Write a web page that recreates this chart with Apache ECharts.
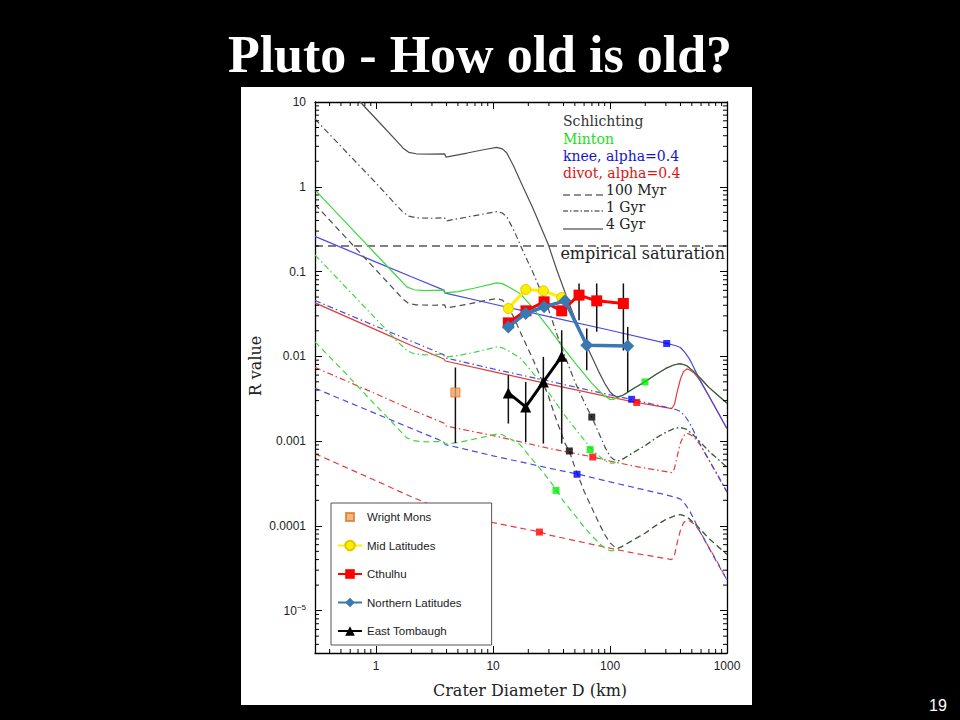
<!DOCTYPE html>
<html><head><meta charset="utf-8">
<script src="https://cdn.jsdelivr.net/npm/echarts@6.0.0/dist/echarts.min.js"></script>
<style>html,body{margin:0;padding:0;background:#000;}#c{width:960px;height:720px;}</style>
</head><body><div id="c"></div>
<script>
// ---------- model curves: [D (km), R] ----------
const schl4 = [[0.3,37.6],[0.73,10],[1.0,6.3],[1.5,3.45],[1.7,2.85],[1.9,2.55],[2.2,2.45],[3.0,2.43],[3.85,2.45],[3.95,2.24],[6.0,2.5],[8.5,2.75],[10.75,2.92],[12.0,2.8],[13.1,2.5],[15,1.75],[18,1.0],[22,0.55],[26,0.32],[29.7,0.207],[35,0.105],[41.2,0.057],[50,0.028],[60,0.0155],[70,0.0098],[80,0.0066],[90,0.0048],[100,0.0038],[107,0.0035],[115,0.0033],[130,0.0035],[160,0.0042],[199,0.005],[250,0.0062],[300,0.0072],[350,0.0079],[397,0.0082],[450,0.0078],[520,0.0066],[600,0.0054],[700,0.0043],[850,0.0034],[1000,0.0028]];
const schl1 = [[0.3,6.3],[0.5,3.0],[1.0,1.1],[1.5,0.60],[1.7,0.50],[1.9,0.45],[2.2,0.43],[3.0,0.425],[3.85,0.43],[3.95,0.395],[6.0,0.44],[8.5,0.48],[10.75,0.51],[12.0,0.49],[13.1,0.44],[15,0.31],[18,0.175],[22,0.096],[26,0.056],[29.7,0.036],[35,0.0184],[41.2,0.0100],[50,0.0050],[60,0.0029],[70,0.0019],[80,0.00125],[90,0.00086],[100,0.00066],[107,0.00061],[115,0.00058],[130,0.00062],[160,0.00074],[199,0.00088],[250,0.0011],[300,0.00127],[350,0.0014],[397,0.00145],[450,0.00138],[520,0.00117],[600,0.00095],[700,0.00076],[850,0.0006],[1000,0.00049]];
const schl01 = [[0.3,0.62],[0.5,0.29],[1.0,0.104],[1.5,0.057],[1.7,0.047],[1.9,0.042],[2.2,0.0405],[3.0,0.040],[3.85,0.0405],[3.95,0.037],[6.0,0.041],[8.5,0.0454],[10.75,0.048],[12.0,0.046],[13.1,0.041],[15,0.029],[18,0.0165],[22,0.0091],[26,0.0053],[29.7,0.0034],[35,0.00173],[41.2,0.00094],[45,0.00075],[50,0.00049],[60,0.000256],[70,0.000162],[80,0.000109],[90,0.000079],[100,0.000063],[107,0.000058],[115,0.000054],[130,0.000058],[160,0.000069],[199,0.000082],[250,0.000102],[300,0.000119],[350,0.00013],[397,0.000136],[450,0.000129],[520,0.000109],[600,0.000089],[700,0.000071],[850,0.000056],[1000,0.000046]];
const mint4 = [[0.3,0.92],[0.5,0.436],[1.0,0.159],[1.5,0.088],[1.83,0.066],[2.1,0.061],[2.6,0.0595],[3.76,0.0603],[3.85,0.056],[5,0.058],[7,0.064],[10.75,0.0736],[12,0.072],[13.5,0.066],[17,0.0551],[20,0.043],[25,0.0295],[30,0.0215],[40,0.0125],[50,0.0084],[60,0.0062],[70,0.0048],[87.6,0.0035],[100,0.0031],[107,0.0031],[130,0.0035],[160,0.0042],[199,0.005],[250,0.0062],[300,0.0072],[350,0.0079],[397,0.0082],[450,0.0078],[520,0.0066],[600,0.0054],[700,0.0043],[850,0.0034],[1000,0.0028]];
const mint1 = [[0.3,0.157],[0.5,0.075],[1.0,0.0275],[1.16,0.0222],[1.5,0.0152],[1.83,0.0117],[2.1,0.0107],[2.6,0.0104],[3.76,0.0106],[3.85,0.0098],[5,0.0102],[7,0.0112],[10.75,0.0129],[12,0.0126],[13.5,0.0116],[17,0.0096],[20,0.0074],[25,0.0051],[30,0.0037],[40,0.0021],[50,0.00142],[60,0.00103],[67.5,0.00085],[70,0.0008],[87.6,0.0006],[100,0.00055],[107,0.00055],[130,0.00062],[160,0.00074],[199,0.00088],[250,0.0011],[300,0.00127],[350,0.0014],[397,0.00145],[450,0.00138],[520,0.00117],[600,0.00095],[700,0.00076],[850,0.0006],[1000,0.00049]];
const mint01 = [[0.3,0.0148],[0.5,0.0072],[1.0,0.0026],[1.32,0.00176],[1.5,0.00145],[1.83,0.00109],[2.1,0.00101],[2.6,0.00098],[3.76,0.00099],[3.85,0.00092],[5,0.00096],[7,0.00106],[10.75,0.00121],[12,0.00119],[13.5,0.00109],[17,0.00091],[20,0.00069],[25,0.00048],[30,0.00035],[34.5,0.00027],[40,0.000195],[50,0.000134],[60,0.000097],[70,0.000076],[87.6,0.000056],[100,0.000051],[107,0.000051],[130,0.000058],[160,0.000069],[199,0.000082],[250,0.000102],[300,0.000119],[350,0.00013],[397,0.000136],[450,0.000129],[520,0.000109],[600,0.000089],[700,0.000071],[850,0.000056],[1000,0.000046]];
const knee4 = [[0.3,0.26],[1.0,0.129],[2.0,0.0867],[3.8,0.0603],[3.9,0.0556],[10,0.0414],[30,0.0294],[100,0.0203],[305,0.0142],[360,0.0134],[400,0.0127],[440,0.0110],[480,0.0092],[515,0.0076],[588,0.0052],[700,0.0034],[850,0.0021],[1000,0.0014]];
const knee1 = [[0.3,0.0455],[1.0,0.0226],[2.0,0.0151],[3.8,0.0104],[3.9,0.0096],[10,0.0071],[30,0.0051],[100,0.0035],[153,0.0031],[305,0.0025],[360,0.00237],[400,0.00224],[440,0.00195],[480,0.00163],[515,0.00134],[588,0.00092],[700,0.0006],[850,0.00038],[1000,0.00025]];
const knee01 = [[0.3,0.0042],[1.0,0.0021],[2.0,0.00141],[3.8,0.00098],[3.9,0.00091],[10,0.00067],[30,0.00048],[52.2,0.00041],[100,0.00033],[305,0.000231],[360,0.000218],[400,0.000207],[440,0.000179],[480,0.00015],[515,0.000124],[588,0.000085],[700,0.000055],[850,0.000034],[1000,0.000023]];
const div4 = [[0.3,0.0427],[1.0,0.0205],[2.0,0.0134],[3.8,0.0093],[3.9,0.0088],[10,0.0066],[30,0.0047],[100,0.0033],[169,0.00285],[250,0.0026],[320,0.00245],[337,0.00242],[355,0.0027],[375,0.0038],[400,0.0054],[425,0.0066],[453,0.0071],[480,0.0069],[520,0.0064],[588,0.0052],[700,0.0034],[850,0.0021],[1000,0.0014]];
const div1 = [[0.3,0.0074],[1.0,0.0036],[2.0,0.00235],[3.8,0.00163],[3.9,0.00151],[10,0.00116],[30,0.00082],[71.1,0.00065],[100,0.00058],[169,0.0005],[250,0.000455],[320,0.00043],[337,0.000425],[355,0.00047],[375,0.00066],[400,0.00095],[425,0.00115],[453,0.00124],[480,0.0012],[520,0.00112],[588,0.00091],[700,0.0006],[850,0.00037],[1000,0.00025]];
const div01 = [[0.3,0.00071],[1.0,0.00034],[2.0,0.00022],[3.8,0.000153],[3.9,0.000145],[10,0.000109],[24.9,0.000085],[30,0.000078],[100,0.0000545],[169,0.000047],[250,0.000043],[320,0.0000405],[337,0.00004],[355,0.0000445],[375,0.000063],[400,0.000089],[425,0.000109],[453,0.000117],[480,0.000114],[520,0.000106],[588,0.000086],[700,0.000056],[850,0.000035],[1000,0.000023]];
const saturation = [[0.3,0.2],[1000,0.2]];

// markers on model curves
const blackSq = [[69.8,0.00192],[44.9,0.000764]];
const greenSq = [[199,0.00499],[67.5,0.000794],[34.5,0.000262]];
const blueSq  = [[305,0.01416],[153,0.00311],[52.2,0.000406]];
const redSq   = [[169,0.00285],[71.1,0.000649],[24.9,0.0000845]];

// ---------- observations ----------
const wrightD = [4.76];            const wrightR = [0.00374];
const midD = [13.5,19.0,26.9,38.6]; const midR = [0.0367,0.0615,0.0592,0.0494];
const cthD = [13.5,19.1,27.3,38.6,54.3,76.9,130]; const cthR = [0.0248,0.0344,0.0439,0.0344,0.0527,0.0451,0.0420];
const norD = [13.5,19.0,27.3,41.2,63.2,141.6]; const norR = [0.0222,0.032,0.0383,0.0451,0.0135,0.0132];
const eastD = [13.5,19.0,26.9,38.6]; const eastR = [0.0037,0.00253,0.00499,0.0100];
// error bars: [D, low, high]
const errBars = [[4.76,0.00095,0.00738],[54.3,0.0266,0.0724],[76.9,0.0195,0.0724],[130,0.0117,0.0724],
  [63.2,0.00685,0.0213],[141.6,0.0038,0.0222],
  [13.5,0.00161,0.00598],[19.0,0.000976,0.00499],[26.9,0.000934,0.00984],[38.6,0.000934,0.0203]];

// ---------- axes / ticks ----------
const X_MIN = 0.3, X_MAX = 1000, Y_MIN = Math.pow(10,-5.5), Y_MAX = 10;
const xLabels = ['1','10','100','1000'];
const yLabels = ['10{s|−5}','0.0001','0.001','0.01','0.1','1','10'];
const xMinorTicks = [0.4,0.5,0.6,0.7,0.8,0.9,2,3,4,5,6,7,8,9,20,30,40,50,60,70,80,90,200,300,400,500,600,700,800,900];
const yMinorTicks = [4e-6,5e-6,6e-6,7e-6,8e-6,9e-6,
  2e-5,3e-5,4e-5,5e-5,6e-5,7e-5,8e-5,9e-5,
  2e-4,3e-4,4e-4,5e-4,6e-4,7e-4,8e-4,9e-4,
  0.002,0.003,0.004,0.005,0.006,0.007,0.008,0.009,
  0.02,0.03,0.04,0.05,0.06,0.07,0.08,0.09,
  0.2,0.3,0.4,0.5,0.6,0.7,0.8,0.9,
  2,3,4,5,6,7,8,9];

const GRAY='#4e4e4e', GREEN='#3fd83f', BLUE='#4b4be0', RED='#e23c3c';
const DASH=[6,4], DASHDOT=[6,3,1.5,3];
const SERIF='"DejaVu Serif", serif';
const MINOR_LEN = 4;

function curve(name, data, color, dash){
  return {name, type:'line', data, symbol:'none', silent:true, z:2, clip:true,
    lineStyle:{color, width:1.2, type: dash || 'solid'}};
}
function squares(name, data, color){
  return {name, type:'scatter', data, symbol:'rect', symbolSize:7, silent:true, z:3, itemStyle:{color}};
}
const pairs = (D,R)=>D.map((d,i)=>[d,R[i]]);
const tickStyle = {stroke:'#000', lineWidth:1};

const axisCommon = {type:'log', logBase:10, gridIndex:0,
  axisLine:{onZero:false, lineStyle:{color:'#000', width:1.3}},
  axisTick:{inside:true, length:7, lineStyle:{color:'#000', width:1}},
  minorTick:{show:false},
  splitLine:{show:false}, minorSplitLine:{show:false}};

function isDecade(v){ const l=Math.log10(v); return Math.abs(l-Math.round(l))<1e-6; }
const txt = (x,y,text,fill,font,align)=>({type:'text', z:10, x, y,
  style:{text, fill, font, textAlign:align||'left', align:align||'left', textVerticalAlign:'middle', verticalAlign:'middle'}});

const option = {
  backgroundColor:'#000',
  animation:false,
  grid:{left:315, top:102, width:412, height:551, show:false},
  xAxis:[
    Object.assign({}, axisCommon, {min:X_MIN, max:X_MAX, position:'bottom',
      axisLabel:{color:'#222', fontSize:12, fontFamily:'"Liberation Sans", Arial', margin:7,
        formatter:v=>{ if(!isDecade(v)) return ''; const k=Math.round(Math.log10(v)); return k>=0 && k<xLabels.length ? xLabels[k] : ''; }}}),
    Object.assign({}, axisCommon, {min:X_MIN, max:X_MAX, position:'top', axisLabel:{show:false}})
  ],
  yAxis:[
    Object.assign({}, axisCommon, {min:Y_MIN, max:Y_MAX, position:'left',
      axisLabel:{color:'#222', fontSize:12, fontFamily:'"Liberation Sans", Arial', margin:9,
        rich:{s:{fontSize:8, verticalAlign:'top', padding:[0,0,6,0], fontFamily:'"Liberation Sans", Arial', color:'#222'}},
        formatter:v=>{ if(!isDecade(v)) return ''; const k=Math.round(Math.log10(v))+5; return k>=0 && k<yLabels.length ? yLabels[k] : ''; }}}),
    Object.assign({}, axisCommon, {min:Y_MIN, max:Y_MAX, position:'right', axisLabel:{show:false}})
  ],
  legend:{
    data:[
      {name:'Wright Mons', icon:'path://M0,0L0.01,0Z M24,12L23.99,12Z M8,2H16V10H8Z'},
      'Mid Latitudes','Cthulhu','Northern Latitudes','East Tombaugh'],
    orient:'vertical', left:331, top:503, padding:[7,30,7,6], itemGap:14.5,
    itemWidth:24, itemHeight:12, backgroundColor:'#fff', borderColor:'#555', borderWidth:1,
    textStyle:{fontFamily:'"Liberation Sans", Arial', fontSize:11.5, color:'#222', lineHeight:14},
    selectedMode:false, z:20
  },
  graphic:[
    {type:'rect', z:-10, shape:{x:241, y:87, width:511, height:618}, style:{fill:'#fff'}},
    txt(480, 54, 'Pluto - How old is old?', '#fff', 'bold 52px "Liberation Serif", serif', 'center'),
    txt(938, 705, '19', '#fff', '16px "Liberation Sans", Arial', 'center'),
    {type:'text', z:10, x:255, y:366, rotation:Math.PI/2, style:{text:'R value', fill:'#222', font:'16px '+SERIF, textAlign:'center', textVerticalAlign:'middle', align:'center', verticalAlign:'middle'}},
    txt(530, 690, 'Crater Diameter D (km)', '#222', '16px '+SERIF, 'center'),
    txt(725, 253, 'empirical saturation', '#222', '16px '+SERIF, 'right'),
    txt(563, 121, 'Schlichting', '#333', '14px '+SERIF),
    txt(563, 138.5, 'Minton', '#22dd22', '14px '+SERIF),
    txt(563, 156, 'knee, alpha=0.4', '#1515cc', '14px '+SERIF),
    txt(563, 173, 'divot, alpha=0.4', '#dd1515', '14px '+SERIF),
    {type:'line', z:10, shape:{x1:563, y1:195, x2:603, y2:195}, style:{stroke:'#222', lineWidth:1.2, lineDash:[7,4]}},
    txt(606, 189.7, '100 Myr', '#222', '14px '+SERIF),
    {type:'line', z:10, shape:{x1:563, y1:211, x2:603, y2:211}, style:{stroke:'#222', lineWidth:1.2, lineDash:[5,2,1.5,2]}},
    txt(606, 206.5, '1 Gyr', '#222', '14px '+SERIF),
    {type:'line', z:10, shape:{x1:563, y1:229, x2:603, y2:229}, style:{stroke:'#222', lineWidth:1.2}},
    txt(606, 224, '4 Gyr', '#222', '14px '+SERIF)
  ],
  series:[
    curve('sat', saturation, '#000', [8,5]),
    curve('div01', div01, RED, DASH), curve('div1', div1, RED, DASHDOT), curve('div4', div4, RED),
    curve('knee01', knee01, BLUE, DASH), curve('knee1', knee1, BLUE, DASHDOT), curve('knee4', knee4, BLUE),
    curve('mint01', mint01, GREEN, DASH), curve('mint1', mint1, GREEN, DASHDOT), curve('mint4', mint4, GREEN),
    curve('schl01', schl01, GRAY, DASH), curve('schl1', schl1, GRAY, DASHDOT), curve('schl4', schl4, GRAY),
    squares('bsq', blackSq, '#000'), squares('gsq', greenSq, '#00ee00'), squares('usq', blueSq, '#0000ff'), squares('rsq', redSq, '#ff0000'),
    // minor ticks on bottom/top and left/right, positioned by the log axes
    {name:'xminor', type:'custom', silent:true, clip:false, z:5, data:xMinorTicks.map(v=>[v, Y_MIN]), encode:{x:0, y:1},
      renderItem:(params, api)=>{
        const b=api.coord([api.value(0), Y_MIN]), t=api.coord([api.value(0), Y_MAX]);
        return {type:'group', children:[
          {type:'line', shape:{x1:b[0], y1:b[1], x2:b[0], y2:b[1]-MINOR_LEN}, style:tickStyle},
          {type:'line', shape:{x1:t[0], y1:t[1], x2:t[0], y2:t[1]+MINOR_LEN}, style:tickStyle}]};
      }},
    {name:'yminor', type:'custom', silent:true, clip:false, z:5, data:yMinorTicks.map(v=>[X_MIN, v]), encode:{x:0, y:1},
      renderItem:(params, api)=>{
        const l=api.coord([X_MIN, api.value(1)]), r=api.coord([X_MAX, api.value(1)]);
        return {type:'group', children:[
          {type:'line', shape:{x1:l[0], y1:l[1], x2:l[0]+MINOR_LEN, y2:l[1]}, style:tickStyle},
          {type:'line', shape:{x1:r[0], y1:r[1], x2:r[0]-MINOR_LEN, y2:r[1]}, style:tickStyle}]};
      }},
    {name:'err', type:'custom', z:4, silent:true, data:errBars, encode:{x:0, y:[1,2]},
      renderItem:(params, api)=>{
        const p1=api.coord([api.value(0), api.value(1)]), p2=api.coord([api.value(0), api.value(2)]);
        return {type:'line', shape:{x1:p1[0], y1:p1[1], x2:p2[0], y2:p2[1]}, style:{stroke:'#111', lineWidth:1.5}};
      }},
    {name:'Wright Mons', type:'scatter', z:6, data:pairs(wrightD, wrightR), symbol:'rect', symbolSize:9,
      itemStyle:{color:'#f4a25c', borderColor:'#d87a2a', borderWidth:1}},
    {name:'Mid Latitudes', type:'line', z:6, data:pairs(midD, midR), symbol:'circle', symbolSize:10,
      lineStyle:{color:'#ffee00', width:3}, itemStyle:{color:'#ffee00', borderColor:'#e0c800', borderWidth:1}},
    {name:'Cthulhu', type:'line', z:7, data:pairs(cthD, cthR), symbol:'rect', symbolSize:11,
      lineStyle:{color:'#ff0000', width:3}, itemStyle:{color:'#ff0000'}},
    {name:'Northern Latitudes', type:'line', z:8, data:pairs(norD, norR), symbol:'diamond', symbolSize:13,
      lineStyle:{color:'#3a78b2', width:3.5}, itemStyle:{color:'#3a78b2'}},
    {name:'East Tombaugh', type:'line', z:8, data:pairs(eastD, eastR), symbol:'triangle', symbolSize:11,
      lineStyle:{color:'#000', width:3}, itemStyle:{color:'#000'}}
  ]
};
const chart = echarts.init(document.getElementById('c'), null, {renderer:'svg', width:960, height:720});
chart.setOption(option);
</script></body></html>
